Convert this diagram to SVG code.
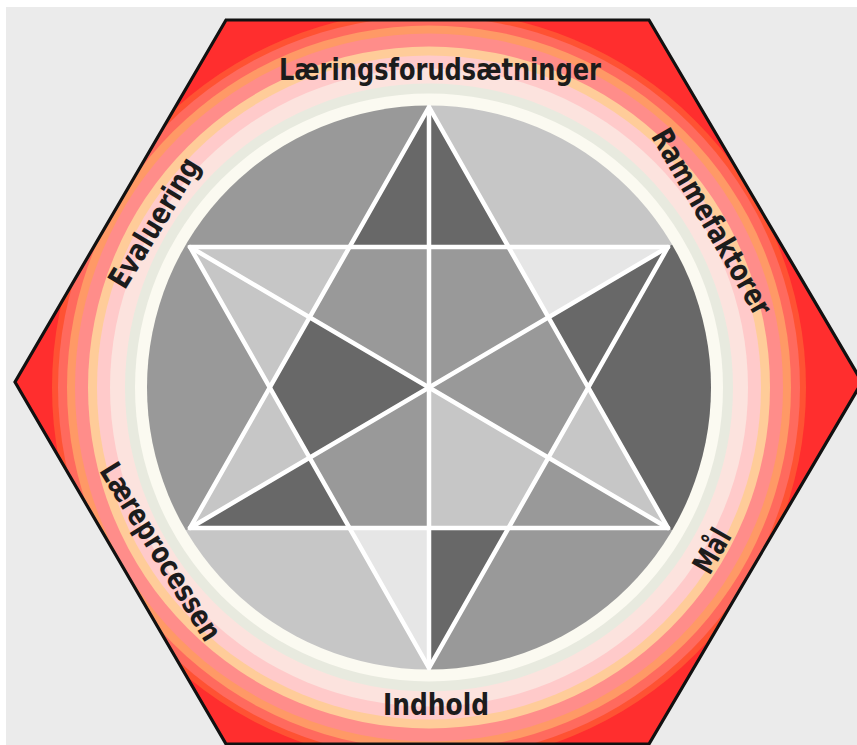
<svg xmlns="http://www.w3.org/2000/svg" width="857" height="745" viewBox="0 0 857 745">
<style>
.lbl{font-family:"Liberation Sans Narrow","DejaVu Sans Condensed","DejaVu Sans",sans-serif;font-weight:700;font-size:30px;fill:#1c1c1c;text-anchor:middle}
.dk{fill:#686868}.md{fill:#999999}.lt{fill:#c6c6c6}.vl{fill:#e6e6e6}
.ln{stroke:#ffffff;stroke-width:4.5;fill:none;stroke-linejoin:round;stroke-linecap:round}
</style>
<defs>
<clipPath id="hexClip"><polygon points="226,20 649,20 862,382 649,744 226,744 15,382"/></clipPath>
<clipPath id="diskClip"><circle cx="429" cy="387.5" r="282"/></clipPath>
</defs>
<rect x="0" y="0" width="857" height="745" fill="#ffffff"/>
<rect x="6" y="7" width="851" height="738" fill="#ebebeb"/>
<g id="hexagon">
<g clip-path="url(#hexClip)">
<rect x="0" y="0" width="857" height="745" fill="#ff2e2e"/>
<g transform="translate(429,387.5)">
<circle r="377" fill="#ff5233"/>
<circle r="371" fill="#ff6a5e"/>
<circle r="362" fill="#ff9966"/>
<circle r="354" fill="#ff8d8a"/>
<circle r="341" fill="#ffcc99"/>
<circle r="332" fill="#ffcaca"/>
<circle r="319" fill="#fce3de"/>
<circle r="304" fill="#e8eadf"/>
<circle r="294" fill="#fbfaf1"/>
</g>
</g>
<polygon points="226,20 649,20 862,382 649,744 226,744 15,382" fill="none" stroke="#111111" stroke-width="3.2"/>
</g>
<g id="disk" clip-path="url(#diskClip)">
<polygon class="lt" points="429,387.5 429,-173.5 907,106.5"/>
<polygon class="dk" points="429,387.5 907,106.5 907,668.5"/>
<polygon class="md" points="429,387.5 907,668.5 429,948.5"/>
<polygon class="lt" points="429,387.5 429,948.5 -49,668.5"/>
<polygon class="md" points="429,387.5 -49,668.5 -49,106.5"/>
<polygon class="md" points="429,387.5 -49,106.5 429,-173.5"/>
</g>
<g id="star">
<polygon class="dk" points="429,107 350,247 508,247"/>
<polygon class="vl" points="668,247 508,247 548,317.5"/>
<polygon class="dk" points="668,247 548,317.5 588,387.5"/>
<polygon class="lt" points="668,528 588,387.5 548,457.5"/>
<polygon class="md" points="668,528 548,457.5 508,528"/>
<polygon class="dk" points="429,668 429,528 508,528"/>
<polygon class="vl" points="429,668 350,528 429,528"/>
<polygon class="dk" points="190,528 350,528 310,457.5"/>
<polygon class="lt" points="190,528 310,457.5 270,387.5"/>
<polygon class="lt" points="190,247 270,387.5 350,247"/>
<polygon class="md" points="429,387.5 429,247 350,247 310,317.5"/>
<polygon class="dk" points="429,387.5 310,317.5 270,387.5 310,457.5"/>
<polygon class="md" points="429,387.5 310,457.5 350,528 429,528"/>
<polygon class="lt" points="429,387.5 429,528 508,528 548,457.5"/>
<polygon class="md" points="429,387.5 548,457.5 588,387.5 548,317.5"/>
<polygon class="md" points="429,387.5 548,317.5 508,247 429,247"/>
</g>
<g id="connectors">
<polygon class="ln" points="429,107 668,528 190,528"/>
<polygon class="ln" points="429,668 190,247 668,247"/>
<line class="ln" x1="429" y1="107" x2="429" y2="668"/>
<line class="ln" x1="190" y1="247" x2="668" y2="528"/>
<line class="ln" x1="668" y1="247" x2="190" y2="528"/>
</g>
<g id="label-laeringsforudsaetninger"><text class="lbl" transform="translate(440,80)" textLength="322" lengthAdjust="spacingAndGlyphs">Læringsforudsætninger</text></g>
<g id="label-rammefaktorer"><text class="lbl" transform="translate(703,227) rotate(60)" textLength="210" lengthAdjust="spacingAndGlyphs">Rammefaktorer</text></g>
<g id="label-maal"><text class="lbl" transform="translate(721,556) rotate(-60)" textLength="46" lengthAdjust="spacingAndGlyphs">Mål</text></g>
<g id="label-indhold"><text class="lbl" transform="translate(436,715)" textLength="106" lengthAdjust="spacingAndGlyphs">Indhold</text></g>
<g id="label-laereprocessen"><text class="lbl" transform="translate(152,557) rotate(58.3)" textLength="203" lengthAdjust="spacingAndGlyphs">Læreprocessen</text></g>
<g id="label-evaluering"><text class="lbl" transform="translate(163,228) rotate(-58.7)" textLength="147" lengthAdjust="spacingAndGlyphs">Evaluering</text></g>
</svg>
